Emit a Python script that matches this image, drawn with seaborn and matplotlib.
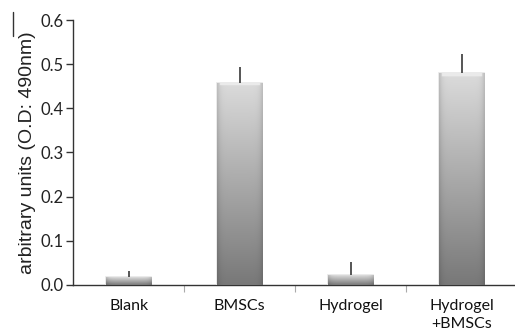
import numpy as np
import pandas as pd
import seaborn as sns
import matplotlib.pyplot as plt
from matplotlib.lines import Line2D

# valeurs
groups = ["Blank", "BMSCs", "Hydrogel", "Hydrogel\n+BMSCs"]
means = [0.018, 0.458, 0.022, 0.480]
errors = [0.013, 0.035, 0.030, 0.043]
yticks = [0.0, 0.1, 0.2, 0.3, 0.4, 0.5, 0.6]

df = pd.DataFrame({"group": groups, "od": means})

sns.set_theme(style="white")
plt.rcParams["font.family"] = ["Liberation Sans", "DejaVu Sans"]

fig = plt.figure(figsize=(5.15, 3.34), dpi=100)
ax = fig.add_axes([0.142, 0.147, 0.858, 0.793])

sns.barplot(data=df, x="group", y="od", ax=ax, width=0.41,
            color="#999999", edgecolor="#e6e6e6", linewidth=1.2, zorder=2)

# dégradé vertical (clair en haut, gris foncé en bas), bords un peu plus sombres
ny, nx = 256, 32
vert = np.linspace(0.47, 0.86, ny)[:, None]
horiz = 1 - 0.12 * (np.abs(np.linspace(-1, 1, nx)) ** 8)[None, :]
shade = vert * horiz
shade[-4:, 2:-2] = np.maximum(shade[-4:, 2:-2], 0.92)
rgb = np.dstack([shade] * 3)
for p in ax.patches:
    x0, y0 = p.get_x(), p.get_y()
    w, h = p.get_width(), p.get_height()
    im = ax.imshow(rgb, origin="lower", extent=[x0, x0 + w, y0, y0 + h],
                   aspect="auto", interpolation="bilinear", zorder=2.5)
    im.set_clip_path(p)

# barres d'erreur vers le haut seulement
ax.errorbar(np.arange(len(groups)), means, yerr=[[0] * len(groups), errors],
            fmt="none", ecolor="#555555", elinewidth=1.4, capsize=0, zorder=3)

ax.set_xlim(-0.5, 3.48)
ax.set_ylim(0, 0.6)
ax.set_yticks(yticks)
ax.set_yticklabels([f"{t:.1f}" for t in yticks], fontsize=12,
                   family=["Lato", "DejaVu Sans"], color="#222222")
ax.set_xticks(np.arange(len(groups)))
ax.set_xticklabels(groups, fontsize=11.5, family=["Lato", "DejaVu Sans"],
                   linespacing=1.35, color="#111111")
ax.tick_params(axis="x", length=0, pad=10)
# petits traits entre les catégories
ax.set_xticks([0.5, 1.5, 2.5], minor=True)
ax.tick_params(axis="x", which="minor", length=5, width=0.8, color="#aaaaaa",
               direction="out", bottom=True)
ax.tick_params(axis="y", length=5, width=1.0, color="#333333", direction="out",
               left=True, pad=2)

ax.set_xlabel("")
ax.set_ylabel("arbitrary units (O.D: 490nm)", fontsize=14, color="#222222",
              labelpad=3)

for s in ["top", "right"]:
    ax.spines[s].set_visible(False)
ax.spines["left"].set_color("#333333")
ax.spines["left"].set_linewidth(1.0)
ax.spines["bottom"].set_color("#333333")
ax.spines["bottom"].set_linewidth(1.0)
ax.spines["bottom"].set_zorder(1)

# petit trait résiduel près du titre de l'axe
fig.add_artist(Line2D([13 / 515, 13 / 515], [1 - 12 / 334, 1 - 36 / 334],
                      color="#333333", linewidth=1.0))

fig.savefig("out.png", dpi=100)
